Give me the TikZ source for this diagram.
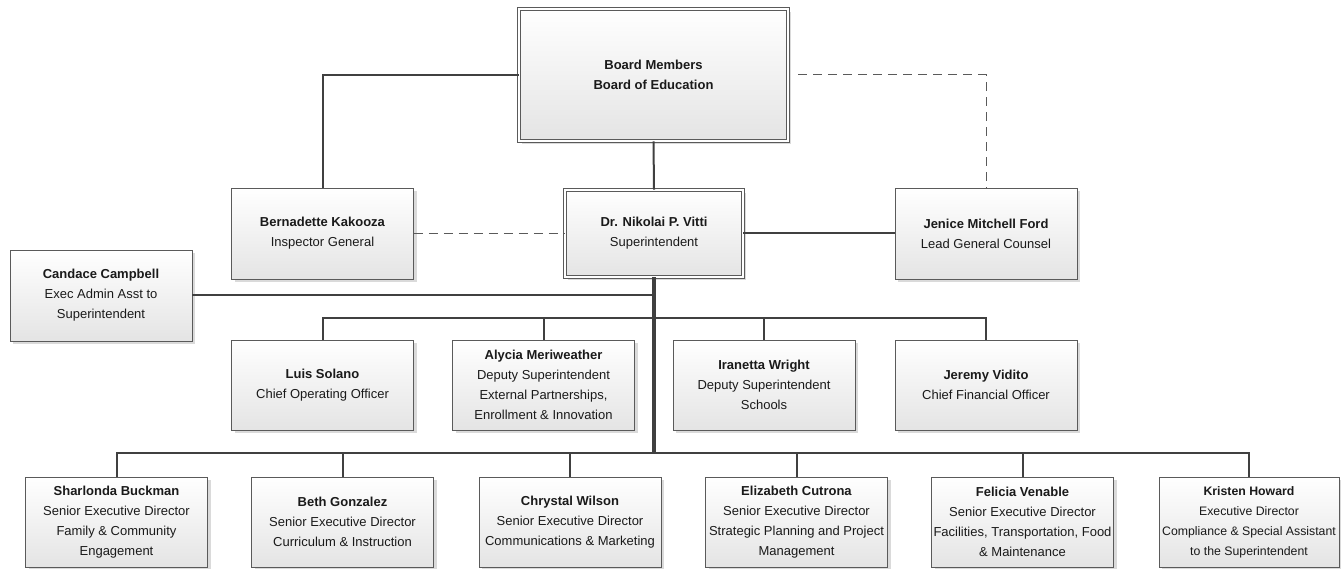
\documentclass[tikz,border=0pt]{standalone}
\usepackage{fontspec}
\setmainfont{Liberation Sans}
\usetikzlibrary{shadows}
\definecolor{boxline}{HTML}{5A5A5A}
\definecolor{boxbot}{HTML}{E4E4E4}
\definecolor{shadowc}{HTML}{DADADA}
\definecolor{connc}{HTML}{404040}
\definecolor{txt}{HTML}{1A1A1A}
\newcommand\boxfont{\fontsize{13}{20}\selectfont}
\newcommand\smallboxfont{\fontsize{12.3}{20}\selectfont}
\tikzset{
  box/.style={draw=boxline, line width=0.8pt, top color=white, bottom color=boxbot,
    minimum width=182pt, minimum height=91pt, inner sep=0pt, align=center,
    font=\boxfont, text=txt,
    drop shadow={shadow xshift=3pt, shadow yshift=-3pt, fill=shadowc, opacity=1}},
  dblbox/.style={box, double=white, double distance=2.5pt, line width=0.7pt},
  conn/.style={draw=connc, line width=2pt},
  trunk/.style={draw=connc, line width=3.5pt},
  dashconn/.style={draw=boxline, line width=1pt, dash pattern=on 9pt off 6pt},
}
\begin{document}
\begin{tikzpicture}[x=1pt,y=-1pt]
\useasboundingbox (0,0) rectangle (1341,569);
% nodes
\node[dblbox, minimum width=269pt, minimum height=132pt] (board) at (653.5,75)
  {\textbf{Board Members}\\\textbf{Board of Education}};
\node[dblbox, minimum width=178pt, minimum height=87pt] (super) at (654,233.5)
  {\textbf{Dr. Nikolai P. Vitti}\\Superintendent};
\node[box] (bern) at (322.5,233.5) {\textbf{Bernadette Kakooza}\\Inspector General};
\node[box] (jen) at (986,233.5) {\textbf{Jenice Mitchell Ford}\\Lead General Counsel};
\node[box] (cand) at (101,295.5) {\textbf{Candace Campbell}\\Exec Admin Asst to\\Superintendent};
\node[box, minimum height=90pt] (luis) at (322.5,385) {\textbf{Luis Solano}\\Chief Operating Officer};
\node[box, minimum height=90pt] (aly) at (543.5,385) {\textbf{Alycia Meriweather}\\Deputy Superintendent\\External Partnerships,\\Enrollment \& Innovation};
\node[box, minimum height=90pt] (ira) at (764,385) {\textbf{Iranetta Wright}\\Deputy Superintendent\\Schools};
\node[box, minimum height=90pt] (jer) at (986,385) {\textbf{Jeremy Vidito}\\Chief Financial Officer};
\node[box, minimum height=90pt] (shar) at (116.5,522) {\textbf{Sharlonda Buckman}\\Senior Executive Director\\Family \& Community\\Engagement};
\node[box, minimum height=90pt] (beth) at (342.5,522) {\textbf{Beth Gonzalez}\\Senior Executive Director\\Curriculum \& Instruction};
\node[box, minimum height=90pt] (chry) at (570,522) {\textbf{Chrystal Wilson}\\Senior Executive Director\\Communications \& Marketing};
\node[box, minimum height=90pt] (eliz) at (796.5,522) {\textbf{Elizabeth Cutrona}\\Senior Executive Director\\Strategic Planning and Project\\Management};
\node[box, minimum height=90pt] (fel) at (1022.5,522) {\textbf{Felicia Venable}\\Senior Executive Director\\Facilities, Transportation, Food\\\& Maintenance};
\node[box, minimum height=90pt, minimum width=180pt, font=\smallboxfont] (kris) at (1249,522) {\textbf{Kristen Howard}\\Executive Director\\Compliance \& Special Assistant\\to the Superintendent};
% junctions
\coordinate (j2) at (654,318);
\coordinate (j3) at (654,453);
% connectors
\draw[conn] (board.south) -- (super.north);
\draw[conn] (board.west) -| (bern.north);
\draw[dashconn, shorten <=10pt] (board.east) -| (jen.north);
\draw[dashconn] (bern.east) -- (super.west);
\draw[conn] (super.east) -- (jen.west);
\draw[trunk] (super.south) -- (j3);
\draw[conn] (cand.east) -- (cand.east -| super.south);
\foreach \n in {luis,aly,ira,jer} \draw[conn] (j2) -| (\n.north);
\foreach \n in {shar,beth,chry,eliz,fel,kris} \draw[conn] (j3) -| (\n.north);
\end{tikzpicture}
\end{document}
